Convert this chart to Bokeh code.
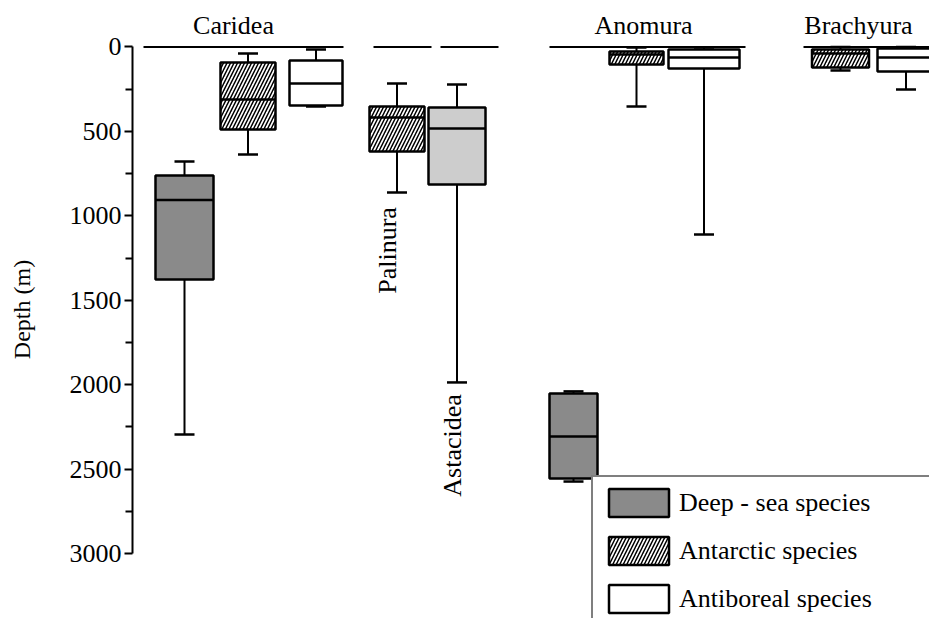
import math
from bokeh.plotting import figure
from bokeh.models import Range1d, FixedTicker, Legend, LegendItem, ColumnDataSource, LinearAxis
from bokeh.core.properties import value
from bokeh.embed import file_html
from bokeh.resources import INLINE

# ---- data (depth in metres) ----
groups = ["Caridea", "Caridea", "Caridea", "Palinura", "Astacidea",
          "Anomura", "Anomura", "Anomura", "Brachyura", "Brachyura"]
kinds = ["Deep-sea", "Antarctic", "Antiboreal", "Antarctic", "Astacidea",
         "Deep-sea", "Antarctic", "Antiboreal", "Antarctic", "Antiboreal"]
whisker_top = [678, 38, 15, 216, 222, 2040, 3, 3, 0, 0]
box_top = [761, 92, 80, 352, 358, 2052, 27, 15, 15, 9]
median = [907, 311, 216, 418, 483, 2307, 45, 62, 38, 62]
box_bottom = [1377, 489, 347, 619, 814, 2556, 104, 127, 121, 145]
whisker_bottom = [2295, 637, 352, 862, 1987, 2574, 352, 1110, 139, 252]

depth_ticks = [0, 500, 1000, 1500, 2000, 2500, 3000]
minor_depth_ticks = [250, 750, 1250, 1750, 2250, 2750]

legend_labels = {"Deep-sea": "Deep - sea species",
                 "Antarctic": "Antarctic species",
                 "Antiboreal": "Antiboreal species"}

# ---- layout (positions / sizes, not data) ----
positions = [52, 115.5, 183.5, 264.5, 324.5, 441, 504, 571.5, 708, 773.5]
widths = [58, 55, 53, 55, 57, 48, 54, 71, 57, 57]
cap_width = 20

span_names = ["Caridea", "Palinura", "Astacidea", "Anomura", "Brachyura"]
span_start = [11, 241, 308, 417, 671]
span_end = [211, 299, 366, 613, 808]

top_labels = ["Caridea", "Anomura", "Brachyura"]
top_label_x = [101, 511, 726]
side_labels = ["Palinura", "Astacidea"]
side_label_x = [254.5, 320]
side_label_y = [1205, 2360]

styles = {
    "Deep-sea": dict(fill_color="#8a8a8a", hatch_pattern=None),
    "Antarctic": dict(fill_color="white", hatch_pattern="/"),
    "Antiboreal": dict(fill_color="white", hatch_pattern=None),
    "Astacidea": dict(fill_color="#cdcdcd", hatch_pattern=None),
}

FONT = "Liberation Serif"

p = figure(width=929, height=618, output_backend="svg", toolbar_location=None,
           x_range=Range1d(0, 797), y_range=Range1d(3385.3, -275.4),
           min_border_left=132, min_border_right=0, min_border_top=0, min_border_bottom=0,
           x_axis_location=None, y_axis_location=None)
p.grid.visible = False
p.outline_line_color = None
p.background_fill_color = "white"

yaxis = LinearAxis(bounds=(0, 3000), axis_label="Depth (m)")
yaxis.ticker = FixedTicker(ticks=depth_ticks, minor_ticks=minor_depth_ticks)
yaxis.axis_line_width = 2
yaxis.major_tick_line_width = 2
yaxis.minor_tick_line_width = 2
yaxis.major_tick_out = 8
yaxis.major_tick_in = 0
yaxis.minor_tick_out = 7
yaxis.minor_tick_in = 0
yaxis.major_label_standoff = 3
yaxis.major_label_text_font = FONT
yaxis.major_label_text_font_size = "26px"
yaxis.major_label_text_color = "black"
yaxis.axis_label_text_font = FONT
yaxis.axis_label_text_font_size = "24px"
yaxis.axis_label_text_font_style = "normal"
yaxis.axis_label_text_color = "black"
yaxis.axis_label_standoff = 32
p.add_layout(yaxis, "left")

# group span lines at depth 0
p.segment(x0=span_start, y0=[0] * len(span_start), x1=span_end, y1=[0] * len(span_end),
          line_color="black", line_width=2)

# whiskers
n = len(positions)
p.segment(x0=positions, y0=whisker_top, x1=positions, y1=box_top, line_color="black", line_width=2)
p.segment(x0=positions, y0=box_bottom, x1=positions, y1=whisker_bottom, line_color="black", line_width=2)
p.segment(x0=[x - cap_width / 2 for x in positions], y0=whisker_top,
          x1=[x + cap_width / 2 for x in positions], y1=whisker_top, line_color="black", line_width=2.5)
p.segment(x0=[x - cap_width / 2 for x in positions], y0=whisker_bottom,
          x1=[x + cap_width / 2 for x in positions], y1=whisker_bottom, line_color="black", line_width=2.5)

# boxes by kind
renderers = {}
for kind, st in styles.items():
    idx = [i for i in range(n) if kinds[i] == kind]
    src = ColumnDataSource(dict(
        left=[positions[i] - widths[i] / 2 for i in idx],
        right=[positions[i] + widths[i] / 2 for i in idx],
        top=[box_top[i] for i in idx],
        bottom=[box_bottom[i] for i in idx],
    ))
    kw = dict(fill_color=st["fill_color"], line_color="black", line_width=2.5)
    if st["hatch_pattern"]:
        kw.update(hatch_pattern=st["hatch_pattern"], hatch_color="black",
                  hatch_scale=7, hatch_weight=1.5)
    renderers[kind] = p.quad(left="left", right="right", top="top", bottom="bottom", source=src, **kw)

# medians
p.segment(x0=[positions[i] - widths[i] / 2 for i in range(n)], y0=median,
          x1=[positions[i] + widths[i] / 2 for i in range(n)], y1=median,
          line_color="black", line_width=2.5)

# group labels
p.text(x=top_label_x, y=[-127] * len(top_labels), text=top_labels,
       text_font=value(FONT), text_font_size="26px", text_align="center",
       text_baseline="middle", text_color="black")
p.text(x=side_label_x, y=side_label_y, text=side_labels, angle=math.pi / 2,
       text_font=value(FONT), text_font_size="26px", text_align="center",
       text_baseline="middle", text_color="black")

legend = Legend(items=[LegendItem(label=legend_labels[k], renderers=[renderers[k]])
                       for k in ["Deep-sea", "Antarctic", "Antiboreal"]],
                location=(459, -8), orientation="vertical")
legend.label_text_font = FONT
legend.label_text_font_size = "26px"
legend.label_text_color = "black"
legend.glyph_width = 75
legend.glyph_height = 35
legend.label_height = 35
legend.label_width = 300
legend.label_standoff = 3
legend.spacing = 13
legend.padding = 8
legend.margin = 0
legend.border_line_color = "black"
legend.border_line_width = 2
legend.background_fill_color = "white"
legend.background_fill_alpha = 1
p.add_layout(legend)

open("out.html", "w").write(file_html(p, INLINE))
